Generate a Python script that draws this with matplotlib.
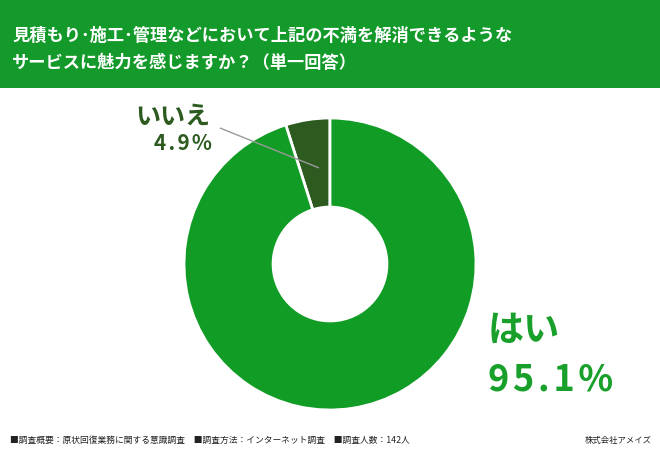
import matplotlib
matplotlib.use("Agg")
from matplotlib import pyplot as plt
from matplotlib.patches import Rectangle

plt.rcParams['font.family'] = ['Noto Sans CJK JP', 'DejaVu Sans']

labels = ['いいえ', 'はい']
values = [4.9, 95.1]
colors = ['#2c5a1f', '#119c25']
title_lines = ['見積もり･施工･管理などにおいて上記の不満を解消できるような',
               'サービスに魅力を感じますか？（単一回答）']
footer = '■調査概要：原状回復業務に関する意識調査　■調査方法：インターネット調査　■調査人数：142人'
credit = '株式会社アメイズ'


def spaced(s):
    # the reference draws the percentages with a little tracking
    return '\u200a'.join(s)


W, H = 660, 450
fig = plt.figure(figsize=(W / 100, H / 100), dpi=100)
fig.patch.set_facecolor('white')

# header band
fig.patches.append(Rectangle((0, 1 - 88 / H), 1, 88 / H, transform=fig.transFigure,
                             facecolor='#149a2b', edgecolor='none', zorder=0))
fig.text(12 / W, 1 - 36 / H, title_lines[0], color='white', fontsize=12.4,
         fontweight='bold', va='center', ha='left')
fig.text(12 / W, 1 - 63 / H, title_lines[1], color='white', fontsize=12.4,
         fontweight='bold', va='center', ha='left')

# donut
cx, cy, r = 330, 264, 146
ax = fig.add_axes([(cx - r) / W, (H - cy - r) / H, 2 * r / W, 2 * r / H])
ax.pie(values, colors=colors, startangle=90, counterclock=True,
       wedgeprops=dict(width=0.61, edgecolor='white', linewidth=2))
ax.set_xlim(-1, 1)
ax.set_ylim(-1, 1)
ax.axis('off')

# leader line for the small slice
ax.plot([-0.75, -0.08], [0.93, 0.66], color='#999999', linewidth=1, clip_on=False)

fig.text(173 / W, 1 - 117 / H, labels[0], color=colors[0], fontsize=18,
         fontweight='bold', ha='center', va='center')
fig.text(183 / W, 1 - 144 / H, spaced(f'{values[0]}%'), color=colors[0], fontsize=15,
         fontweight='bold', ha='center', va='center')

fig.text(488 / W, 1 - 330 / H, labels[1], color='#18a02b', fontsize=26,
         fontweight='bold', ha='left', va='center')
fig.text(488 / W, 1 - 380 / H, spaced(f'{values[1]}%'), color='#18a02b', fontsize=26,
         fontweight='bold', ha='left', va='center')

# footer
fig.text(10 / W, 1 - 440 / H, footer, color='#222222', fontsize=6.3,
         ha='left', va='center')
fig.text(652 / W, 1 - 440 / H, credit, color='#222222', fontsize=6,
         ha='right', va='center')

fig.savefig('out.png', dpi=100)
